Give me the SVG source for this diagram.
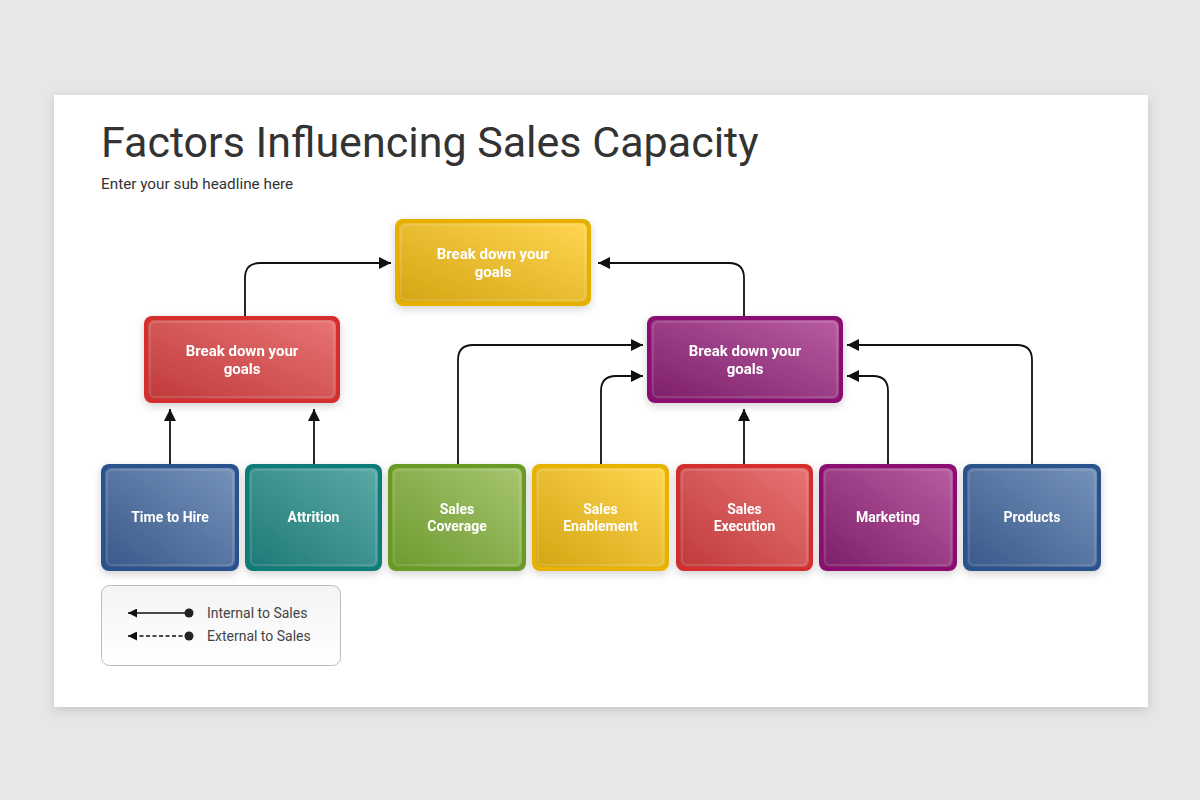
<svg xmlns="http://www.w3.org/2000/svg" width="1200" height="800" viewBox="0 0 1200 800">
<style>
.ttl{font-family:Roboto,"Liberation Sans",sans-serif;fill:#333;}
.nt{font-family:Roboto,"Liberation Sans",sans-serif;font-weight:bold;fill:#fff;text-anchor:middle;}
.lg{font-family:Roboto,"Liberation Sans",sans-serif;fill:#444;font-size:14px;}
.con{fill:none;stroke:#111;stroke-width:1.8;}
.hl{fill:none;stroke:#fff;stroke-opacity:0.16;stroke-width:1.5;}
</style>
<defs>
<filter id="sh" x="-10%" y="-10%" width="120%" height="130%"><feDropShadow dx="0" dy="3" stdDeviation="4" flood-color="#000" flood-opacity="0.18"/></filter>
<filter id="ssh" x="-5%" y="-5%" width="110%" height="110%"><feDropShadow dx="0" dy="3" stdDeviation="6" flood-color="#000" flood-opacity="0.15"/></filter>
<marker id="ah" viewBox="0 0 10 10" refX="10" refY="5" markerWidth="9" markerHeight="9" orient="auto" markerUnits="userSpaceOnUse"><path d="M0,0 L10,5 L0,10 z" fill="#111"/></marker>
<marker id="ar" viewBox="0 0 12 12" refX="12" refY="6" markerWidth="12" markerHeight="12" orient="auto" markerUnits="userSpaceOnUse"><path d="M0,0 L12,6 L0,12 z" fill="#111"/></marker>
<linearGradient id="gBlue" x1="0" y1="1" x2="1" y2="0"><stop offset="0" stop-color="#3a5a8a"/><stop offset="1" stop-color="#7592ba"/></linearGradient>
<linearGradient id="gTeal" x1="0" y1="1" x2="1" y2="0"><stop offset="0" stop-color="#1f7a77"/><stop offset="1" stop-color="#5aa9a6"/></linearGradient>
<linearGradient id="gGreen" x1="0" y1="1" x2="1" y2="0"><stop offset="0" stop-color="#6e9a30"/><stop offset="1" stop-color="#a6c56e"/></linearGradient>
<linearGradient id="gYellow" x1="0" y1="1" x2="1" y2="0"><stop offset="0" stop-color="#d4a514"/><stop offset="1" stop-color="#ffd650"/></linearGradient>
<linearGradient id="gRed" x1="0" y1="1" x2="1" y2="0"><stop offset="0" stop-color="#c03a3a"/><stop offset="1" stop-color="#e87474"/></linearGradient>
<linearGradient id="gPurple" x1="0" y1="1" x2="1" y2="0"><stop offset="0" stop-color="#7e1f6a"/><stop offset="1" stop-color="#b85ca2"/></linearGradient>
<linearGradient id="gLeg" x1="0" y1="0" x2="0" y2="1"><stop offset="0" stop-color="#f4f4f4"/><stop offset="1" stop-color="#ffffff"/></linearGradient>
</defs>
<rect x="0" y="0" width="1200" height="800" fill="#e8e6e8"/>
<rect x="54" y="95" width="1094" height="612" fill="#fff" filter="url(#ssh)"/>
<text class="ttl" x="101" y="157" font-size="43">Factors Influencing Sales Capacity</text>
<text class="ttl" x="101" y="189" font-size="15.3">Enter your sub headline here</text>

<g id="connectors">
<path class="con" d="M245,316 V278 Q245,263 260,263 H391" marker-end="url(#ar)"/>
<path class="con" d="M744,316 V278 Q744,263 729,263 H598" marker-end="url(#ar)"/>
<path class="con" d="M170,464 V409" marker-end="url(#ar)"/>
<path class="con" d="M314,464 V409" marker-end="url(#ar)"/>
<path class="con" d="M458,464 V360 Q458,345 473,345 H643" marker-end="url(#ar)"/>
<path class="con" d="M601,464 V391 Q601,376 616,376 H643" marker-end="url(#ar)"/>
<path class="con" d="M744,464 V409" marker-end="url(#ar)"/>
<path class="con" d="M888,464 V391 Q888,376 873,376 H847" marker-end="url(#ar)"/>
<path class="con" d="M1032,464 V360 Q1032,345 1017,345 H847" marker-end="url(#ar)"/>
</g>

<g id="n-top" filter="url(#sh)">
<rect x="395" y="219" width="196" height="87" rx="8" fill="#e6b000"/>
<rect x="399" y="223" width="188" height="79" rx="6" fill="url(#gYellow)"/>
<rect x="401" y="225" width="184" height="75" rx="5" class="hl"/>
<text class="nt" x="493" y="259" font-size="15">Break down your</text>
<text class="nt" x="493" y="277" font-size="15">goals</text>
</g>
<g id="n-red" filter="url(#sh)">
<rect x="144" y="316" width="196" height="87" rx="8" fill="#d52d2d"/>
<rect x="148" y="320" width="188" height="79" rx="6" fill="url(#gRed)"/>
<rect x="150" y="322" width="184" height="75" rx="5" class="hl"/>
<text class="nt" x="242" y="356" font-size="15">Break down your</text>
<text class="nt" x="242" y="374" font-size="15">goals</text>
</g>
<g id="n-purple" filter="url(#sh)">
<rect x="647" y="316" width="196" height="87" rx="8" fill="#8c0f72"/>
<rect x="651" y="320" width="188" height="79" rx="6" fill="url(#gPurple)"/>
<rect x="653" y="322" width="184" height="75" rx="5" class="hl"/>
<text class="nt" x="745" y="356" font-size="15">Break down your</text>
<text class="nt" x="745" y="374" font-size="15">goals</text>
</g>

<g id="n-time" filter="url(#sh)">
<rect x="101" y="464" width="138" height="107" rx="8" fill="#2c538e"/>
<rect x="105" y="468" width="130" height="99" rx="6" fill="url(#gBlue)"/>
<rect x="107" y="470" width="126" height="95" rx="5" class="hl"/>
<text class="nt" x="170" y="522" font-size="14">Time to Hire</text>
</g>
<g id="n-attrition" filter="url(#sh)">
<rect x="245" y="464" width="137" height="107" rx="8" fill="#0f7b78"/>
<rect x="249" y="468" width="129" height="99" rx="6" fill="url(#gTeal)"/>
<rect x="251" y="470" width="125" height="95" rx="5" class="hl"/>
<text class="nt" x="313.5" y="522" font-size="14">Attrition</text>
</g>
<g id="n-coverage" filter="url(#sh)">
<rect x="388" y="464" width="138" height="107" rx="8" fill="#6a9a26"/>
<rect x="392" y="468" width="130" height="99" rx="6" fill="url(#gGreen)"/>
<rect x="394" y="470" width="126" height="95" rx="5" class="hl"/>
<text class="nt" x="457" y="514" font-size="14">Sales</text>
<text class="nt" x="457" y="531" font-size="14">Coverage</text>
</g>
<g id="n-enablement" filter="url(#sh)">
<rect x="532" y="464" width="137" height="107" rx="8" fill="#e8b200"/>
<rect x="536" y="468" width="129" height="99" rx="6" fill="url(#gYellow)"/>
<rect x="538" y="470" width="125" height="95" rx="5" class="hl"/>
<text class="nt" x="600.5" y="514" font-size="14">Sales</text>
<text class="nt" x="600.5" y="531" font-size="14">Enablement</text>
</g>
<g id="n-execution" filter="url(#sh)">
<rect x="676" y="464" width="137" height="107" rx="8" fill="#d52d2d"/>
<rect x="680" y="468" width="129" height="99" rx="6" fill="url(#gRed)"/>
<rect x="682" y="470" width="125" height="95" rx="5" class="hl"/>
<text class="nt" x="744.5" y="514" font-size="14">Sales</text>
<text class="nt" x="744.5" y="531" font-size="14">Execution</text>
</g>
<g id="n-marketing" filter="url(#sh)">
<rect x="819" y="464" width="138" height="107" rx="8" fill="#8c0f72"/>
<rect x="823" y="468" width="130" height="99" rx="6" fill="url(#gPurple)"/>
<rect x="825" y="470" width="126" height="95" rx="5" class="hl"/>
<text class="nt" x="888" y="522" font-size="14">Marketing</text>
</g>
<g id="n-products" filter="url(#sh)">
<rect x="963" y="464" width="138" height="107" rx="8" fill="#2c538e"/>
<rect x="967" y="468" width="130" height="99" rx="6" fill="url(#gBlue)"/>
<rect x="969" y="470" width="126" height="95" rx="5" class="hl"/>
<text class="nt" x="1032" y="522" font-size="14">Products</text>
</g>

<g id="legend">
<rect x="101.5" y="585.5" width="239" height="80" rx="8" fill="url(#gLeg)" stroke="#bdbdbd" stroke-width="1"/>
<line x1="189" y1="613" x2="128" y2="613" stroke="#111" stroke-width="1.6" marker-end="url(#ah)"/>
<circle cx="189" cy="613" r="4.5" fill="#222"/>
<line x1="189" y1="636" x2="128" y2="636" stroke="#111" stroke-width="1.6" stroke-dasharray="4,2.5" marker-end="url(#ah)"/>
<circle cx="189" cy="636" r="4.5" fill="#222"/>
<text class="lg" x="207" y="618">Internal to Sales</text>
<text class="lg" x="207" y="641">External to Sales</text>
</g>
</svg>
